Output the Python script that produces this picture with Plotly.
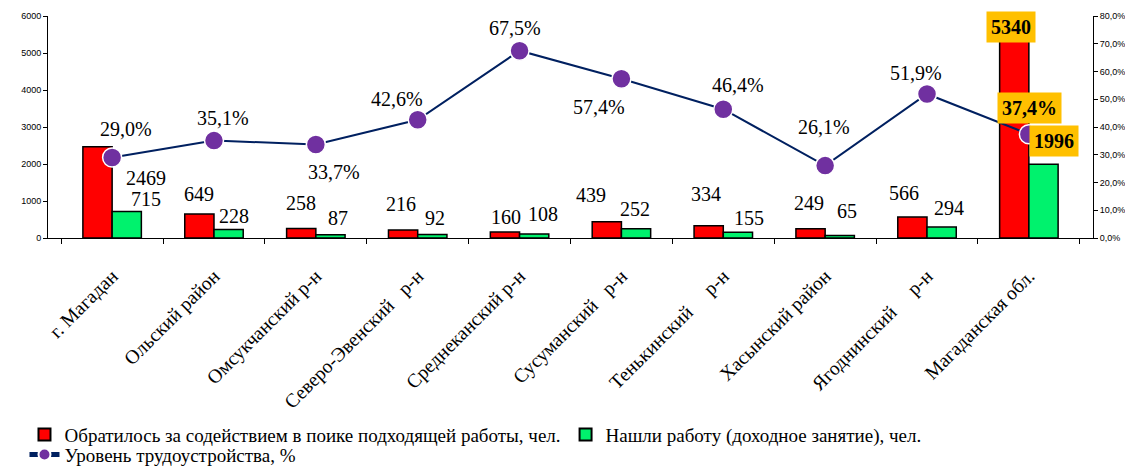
import plotly.graph_objects as go

categories = ["г. Магадан", "Ольский район", "Омсукчанский р-н", "Северо-Эвенский   р-н",
              "Среднеканский р-н", "Сусуманский   р-н", "Тенькинский     р-н",
              "Хасынский район", "Ягоднинский     р-н", "Магаданская обл."]
applied = [2469, 649, 258, 216, 160, 439, 334, 249, 566, 5340]
found = [715, 228, 87, 92, 108, 252, 155, 65, 294, 1996]
rate = [29.0, 35.1, 33.7, 42.6, 67.5, 57.4, 46.4, 26.1, 51.9, 37.4]

name_applied = "Обратилось за содействием в поике подходящей работы, чел."
name_found = "Нашли работу (доходное занятие), чел."
name_rate = "Уровень трудоустройства, %"

# label offsets in pixels (xshift, yshift) relative to each value
off_applied = [(34, -31), (-15, 20), (-15, 25), (-17, 26), (-14, 15), (-30, 27), (-17, 32), (-16, 26), (-23, 24), (-18, 13)]
off_found = [(34, 13), (20, 14), (22, 17), (17, 17), (23, 20), (14, 20), (26, 14), (22, 25), (22, 19), (25, 23)]
off_rate = [(14, 29), (9, 23), (18, -28), (-21, 21), (-5, 23), (-22, -28), (15, 24), (-1, 39), (-11, 21), (1, 26)]

SERIF = "Liberation Serif"
SANS = "Liberation Sans"

fig = go.Figure()
fig.add_trace(go.Bar(x=categories, y=applied, name=name_applied,
                     marker=dict(color="#FF0000", line=dict(color="black", width=1.5))))
fig.add_trace(go.Bar(x=categories, y=found, name=name_found,
                     marker=dict(color="#00F26D", line=dict(color="black", width=1.5))))
fig.add_trace(go.Scatter(x=categories, y=rate, name=name_rate, yaxis="y2", mode="lines+markers",
                         legend="legend2",
                         line=dict(color="#002060", width=2),
                         marker=dict(color="#7030A0", size=19, line=dict(color="white", width=1.5))))

def fmt_pct(v):
    return f"{v:.1f}".replace(".", ",") + "%"

ann = []
last = len(categories) - 1
for i, c in enumerate(categories):
    hl = (i == last)
    box = dict(bgcolor="#FFC000", borderpad=4) if hl else {}
    fnt = dict(family=SERIF, size=20, color="black")
    txt = (lambda s: f"<b>{s}</b>") if hl else (lambda s: s)
    ann.append(dict(x=c, y=applied[i], xref="x", yref="y", text=txt(str(applied[i])),
                    showarrow=False, xshift=off_applied[i][0], yshift=off_applied[i][1], font=fnt, **box))
    ann.append(dict(x=c, y=found[i], xref="x", yref="y", text=txt(str(found[i])),
                    showarrow=False, xshift=off_found[i][0], yshift=off_found[i][1], font=fnt, **box))
    ann.append(dict(x=c, y=rate[i], xref="x", yref="y2", text=txt(fmt_pct(rate[i])),
                    showarrow=False, xshift=off_rate[i][0], yshift=off_rate[i][1], font=fnt, **box))

pct_ticks = list(range(0, 81, 10))
legend_font = dict(family=SERIF, size=19, color="black")
# page body has an 8px margin, so the figure is 8px smaller than the window
fig.update_layout(
    width=1125, height=462,
    margin=dict(l=40, r=40, t=8, b=232, autoexpand=False),
    paper_bgcolor="white", plot_bgcolor="white",
    barmode="group", bargap=0.426, bargroupgap=0,
    showlegend=True,
    legend=dict(orientation="h", x=-0.0225, xanchor="left", y=-0.80, yanchor="top",
                itemsizing="constant", font=legend_font, traceorder="normal",
                bgcolor="rgba(0,0,0,0)"),
    legend2=dict(orientation="h", x=-0.0225, xanchor="left", y=-0.89, yanchor="top",
                 itemsizing="constant", font=legend_font, bgcolor="rgba(0,0,0,0)"),
    xaxis=dict(type="category", showline=True, linecolor="black", linewidth=1, automargin=False,
               ticks="outside", tickson="boundaries", ticklen=5, tickcolor="black",
               tickangle=-45, tickfont=dict(family=SERIF, size=19.5, color="black"),
               ticklabelstandoff=18, showgrid=False),
    yaxis=dict(range=[0, 6000], dtick=1000, tickformat="d", showline=True, linecolor="black",
               linewidth=1, ticks="outside", ticklen=4, tickcolor="black", showgrid=False,
               automargin=False, zeroline=False, tickfont=dict(family=SANS, size=9, color="black")),
    yaxis2=dict(range=[0, 80], overlaying="y", side="right", showline=True, linecolor="black",
                linewidth=1, ticks="outside", ticklen=4, tickcolor="black", showgrid=False,
                automargin=False, zeroline=False, tickvals=pct_ticks,
                ticktext=[fmt_pct(v) for v in pct_ticks],
                tickfont=dict(family=SANS, size=9, color="black")),
    annotations=ann,
)
fig.write_html("out.html")
